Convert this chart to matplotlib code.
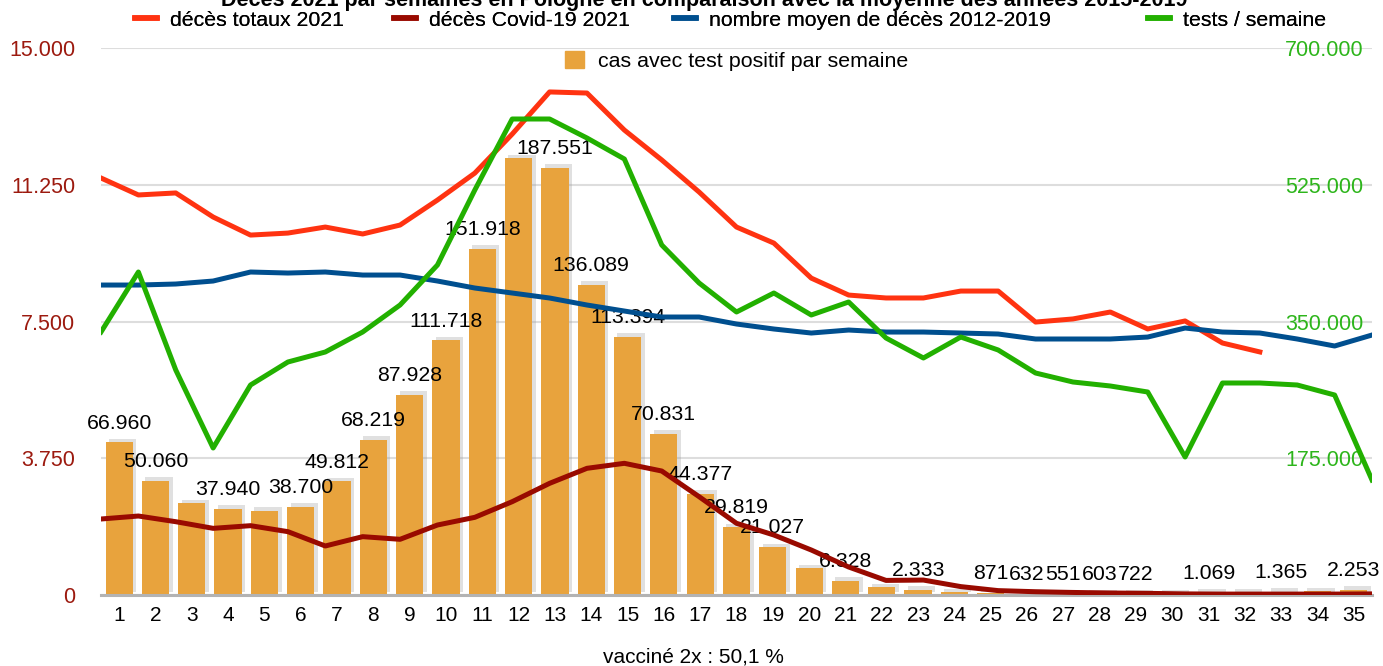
import matplotlib
matplotlib.use("Agg")
import matplotlib.pyplot as plt
import matplotlib.patheffects as pe
from matplotlib.lines import Line2D
from matplotlib.patches import Patch
from matplotlib.ticker import FuncFormatter

plt.rcParams["font.family"] = ["Liberation Sans", "DejaVu Sans"]

# weekly data, 2021
weeks = list(range(1, 36))
cases = [66960, 50060, 40200, 37940, 36900, 38700, 49812, 68219, 87928, 111718,
         151918, 191600, 187551, 136089, 113394, 70831, 44377, 29819, 21027, 11800,
         6328, 3500, 2333, 1200, 871, 632, 551, 603, 722, 800,
         1069, 1200, 1365, 1700, 2253]
hidden_labels = [3, 5, 12, 20, 22, 24, 30, 32, 34]
deaths_2021 = [11435, 10970, 11025, 10365, 9870, 9925, 10090, 9900, 10145, 10830,
               11570, 12640, 13795, 13765, 12750, 11930, 11050, 10090, 9650, 8690,
               8225, 8145, 8145, 8335, 8335, 7485, 7570, 7760, 7295, 7515,
               6910, 6665]
covid_deaths = [2084, 2166, 2010, 1828, 1901, 1737, 1344, 1600, 1527, 1919,
                2130, 2559, 3062, 3474, 3611, 3400, 2696, 1966, 1645, 1234,
                768, 400, 410, 230, 120, 90, 70, 55, 45, 30,
                25, 25, 25, 25, 30]
avg_deaths = [8500, 8500, 8528, 8610, 8857, 8829, 8857, 8774, 8774, 8610,
              8418, 8281, 8144, 7952, 7787, 7623, 7623, 7431, 7294, 7184,
              7266, 7211, 7211, 7184, 7157, 7020, 7020, 7020, 7074, 7321,
              7211, 7184, 7020, 6828, 7129]
tests = [336560, 413340, 287930, 188120, 268740, 298170, 310970, 336560, 371110, 422300,
         518280, 609140, 609140, 584830, 557950, 447900, 399270, 362160, 386470, 358320,
         374950, 328880, 303290, 330160, 313530, 284090, 272580, 267460, 259780, 176600,
         271300, 271300, 268740, 255940, 147170]

RED = "#ff3311"
DARKRED = "#990a00"
BLUE = "#004f8f"
GREEN = "#22b000"
ORANGE = "#e8a33d"


def dots(v, pos=None):
    return f"{int(round(v)):,}".replace(",", ".")


W, H = 1383, 666
fig = plt.figure(figsize=(W / 100, H / 100), dpi=100)
rect = [101 / W, 1 - 595 / H, (1372 - 101) / W, (595 - 48) / H]

# bars (categories centred in their slots)
ax_bar = fig.add_axes(rect)
bars = ax_bar.bar(weeks, cases, width=0.75, color=ORANGE, zorder=2)
for b in bars:
    b.set_path_effects([pe.SimplePatchShadow(offset=(2.5, 2.5), shadow_rgbFace="#999999", alpha=0.3),
                        pe.Normal()])
labels = ["" if w in hidden_labels else dots(c) for w, c in zip(weeks, cases)]
ax_bar.bar_label(bars, labels=labels, padding=7, fontsize=15.3, color="black")
ax_bar.set_xlim(0.5, 35.5)
ax_bar.set_ylim(0, 240000)
ax_bar.set_yticks([0, 60000, 120000, 180000, 240000])
ax_bar.yaxis.set_ticklabels([])
ax_bar.tick_params(axis="y", length=0)
ax_bar.set_xticks(weeks)
ax_bar.tick_params(axis="x", length=0, pad=8, labelsize=15)
ax_bar.grid(axis="y", color="#dddddd", linewidth=1.5, zorder=0)
ax_bar.set_axisbelow(True)
for s in ("top", "left", "right"):
    ax_bar.spines[s].set_visible(False)
ax_bar.spines["bottom"].set_color("#b3b3b3")
ax_bar.spines["bottom"].set_linewidth(2.2)

# deaths (left axis), lines span the full width
ax = fig.add_axes(rect, facecolor="none")
ax.plot(weeks[:len(deaths_2021)], deaths_2021, color=RED, lw=3.6)
ax.plot(weeks, covid_deaths, color=DARKRED, lw=3.6)
ax.plot(weeks, avg_deaths, color=BLUE, lw=3.6)
ax.set_xlim(1, 35)
ax.set_ylim(0, 15000)
ax.set_yticks([0, 3750, 7500, 11250, 15000])
ax.yaxis.set_major_formatter(FuncFormatter(dots))
ax.tick_params(axis="y", length=0, pad=18.5, labelsize=15.5, labelcolor="#9c1a0f")
ax.set_xticks([])
for s in ax.spines.values():
    s.set_visible(False)

# tests (right axis, labels inside the plot)
ax_t = fig.add_axes(rect, facecolor="none")
ax_t.plot(weeks, tests, color=GREEN, lw=3.6)
ax_t.set_xlim(1, 35)
ax_t.set_ylim(0, 700000)
ax_t.set_yticks([175000, 350000, 525000, 700000])
ax_t.yaxis.set_major_formatter(FuncFormatter(dots))
ax_t.yaxis.tick_right()
ax_t.tick_params(axis="y", length=0, pad=-62.6, labelsize=15.5, labelcolor="#2db51b")
ax_t.set_xticks([])
for s in ax_t.spines.values():
    s.set_visible(False)

# legend, one entry per slot as in the original layout
entries = [(Line2D([], [], color=RED, lw=4), "décès totaux 2021", 135),
           (Line2D([], [], color=DARKRED, lw=4), "décès Covid-19 2021", 394),
           (Line2D([], [], color=BLUE, lw=4), "nombre moyen de décès 2012-2019", 674),
           (Line2D([], [], color=GREEN, lw=4), "tests / semaine", 1148)]
for handle, text, xpx in entries:
    leg = fig.legend([handle], [text], loc="center left", bbox_to_anchor=(xpx / W, 1 - 20 / H),
                     frameon=False, fontsize=15.3, borderpad=0, borderaxespad=0,
                     handlelength=1.05, handletextpad=0.6)
    fig.add_artist(leg)
fig.legend([Patch(color=ORANGE)], ["cas avec test positif par semaine"], loc="center left",
           bbox_to_anchor=(565 / W, 1 - 61 / H), frameon=False, fontsize=15.4,
           borderpad=0, borderaxespad=0, handlelength=0.9, handleheight=0.85,
           handletextpad=0.65)

fig.text(704 / W, 1 - 6 / H,
         "Décès 2021 par semaines en Pologne en comparaison avec la moyenne des années 2015-2019",
         ha="center", va="baseline", fontsize=15.5, fontweight="bold")
fig.text(693 / W, 1 - 657 / H, "vacciné 2x : 50,1 %", ha="center", va="center", fontsize=15)

fig.savefig("out.png", dpi=100)
